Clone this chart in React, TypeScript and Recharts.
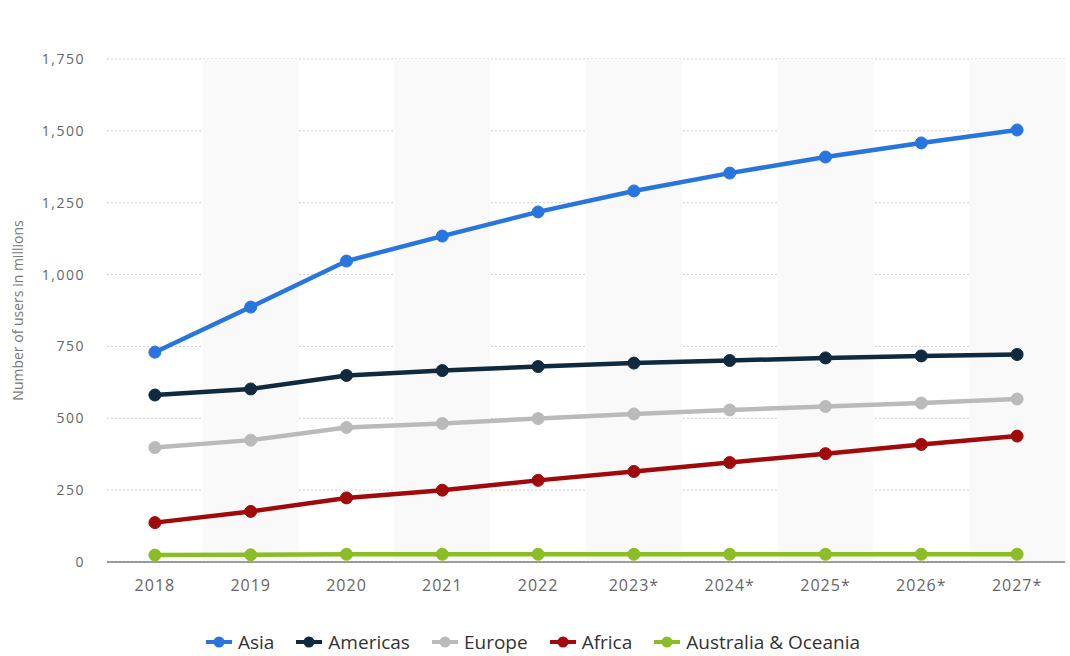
import React from 'react';
import { LineChart, Line, XAxis, YAxis, CartesianGrid, ReferenceArea } from 'recharts';

const years = ['2018', '2019', '2020', '2021', '2022', '2023*', '2024*', '2025*', '2026*', '2027*'];
const asia = [730, 887, 1047, 1134, 1218, 1291, 1353, 1409, 1458, 1503];
const americas = [581, 602, 649, 666, 680, 692, 701, 710, 717, 722];
const europe = [398, 424, 468, 482, 499, 515, 529, 541, 553, 567];
const africa = [137, 176, 223, 250, 284, 315, 346, 377, 409, 438];
const oceania = [24, 25, 27, 27, 27, 27, 27, 27, 27, 27];
const yTicks = [0, 250, 500, 750, 1000, 1250, 1500, 1750];
const shadedYears = ['2019', '2021', '2023*', '2025*', '2027*'];

const series = [
  { key: 'asia', name: 'Asia', color: '#2876dd', values: asia },
  { key: 'americas', name: 'Americas', color: '#0f2a3f', values: americas },
  { key: 'europe', name: 'Europe', color: '#bababa', values: europe },
  { key: 'africa', name: 'Africa', color: '#a10a0a', values: africa },
  { key: 'oceania', name: 'Australia & Oceania', color: '#8bbd26', values: oceania },
];

const data = years.map((y, i) => {
  const row: Record<string, any> = { year: y };
  series.forEach((s) => {
    row[s.key] = s.values[i];
  });
  return row;
});

const fmt = (v: number) => v.toLocaleString('en-US');

export default function App() {
  return (
    <div style={{ position: 'absolute', left: 0, top: 0, width: 1070, height: 656, background: '#fff', overflow: 'hidden' }}>
      <LineChart width={1070} height={656} data={data} margin={{ top: 59, right: 5, left: 0, bottom: 54 }}>
        {shadedYears.map((y) => (
          <ReferenceArea key={y} x1={y} x2={y} fill="#f9f9f9" fillOpacity={1} stroke="none" />
        ))}
        <CartesianGrid vertical={false} stroke="#cfcfcf" strokeDasharray="2 2" />
        <XAxis
          dataKey="year"
          scale="band"
          height={40}
          tickLine={false}
          tickSize={0}
          tickMargin={18}
          axisLine={{ stroke: '#444', strokeWidth: 1 }}
          tick={{ fill: '#666', fontSize: 16, fontFamily: 'Open Sans', letterSpacing: 1 }}
        />
        <YAxis
          width={107}
          domain={[0, 1750]}
          ticks={yTicks}
          tickFormatter={fmt}
          axisLine={false}
          tickLine={false}
          tickSize={0}
          tickMargin={22}
          tick={{ fill: '#666', fontSize: 14, fontFamily: 'Open Sans', letterSpacing: 1.5 }}
          label={{
            value: 'Number of users in millions',
            angle: -90,
            position: 'insideLeft',
            offset: 18,
            style: { textAnchor: 'middle', fill: '#777', fontSize: 14, fontFamily: 'Open Sans' },
          }}
        />
        {series.map((s) => (
          <Line
            key={s.key}
            type="linear"
            dataKey={s.key}
            name={s.name}
            stroke={s.color}
            strokeWidth={4.5}
            dot={{ r: 6, fill: s.color, stroke: s.color, strokeWidth: 1 }}
            activeDot={false}
            isAnimationActive={false}
          />
        ))}
      </LineChart>
      <div
        style={{
          position: 'absolute',
          left: 0,
          top: 630,
          width: 1066,
          display: 'flex',
          justifyContent: 'center',
          gap: 22,
          fontFamily: 'Open Sans',
          fontSize: 19,
          fontWeight: 500,
          lineHeight: '24px',
          color: '#333',
          whiteSpace: 'nowrap',
        }}
      >
        {series.map((s) => (
          <div key={s.key} style={{ display: 'flex', alignItems: 'center', gap: 6 }}>
            <svg width={26} height={12}>
              <line x1={0} y1={6} x2={26} y2={6} stroke={s.color} strokeWidth={4} />
              <circle cx={13} cy={6} r={5.5} fill={s.color} />
            </svg>
            <span>{s.name}</span>
          </div>
        ))}
      </div>
    </div>
  );
}
